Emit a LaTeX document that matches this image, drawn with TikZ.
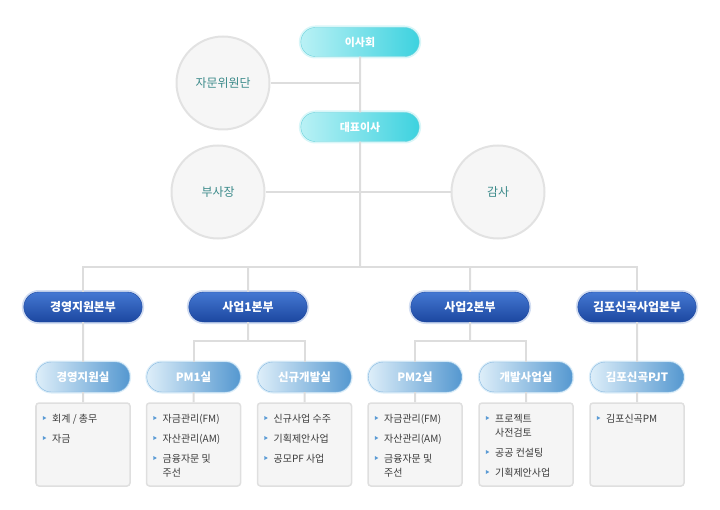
\documentclass[tikz,border=0pt]{standalone}
\usepackage{fontspec}
\setmainfont{Noto Sans CJK KR}
\usepackage{xcolor}
\usepackage{tikz}
\usetikzlibrary{shapes,positioning,calc}
\definecolor{linegray}{HTML}{DDDDDD}
\definecolor{cyanL}{HTML}{B9F1F5}
\definecolor{cyanR}{HTML}{3DD2DF}
\definecolor{cyanB}{HTML}{6CD3DD}
\definecolor{cyanG}{HTML}{D9F6F8}
\definecolor{divT}{HTML}{4478D2}
\definecolor{divB}{HTML}{1C47A0}
\definecolor{divG}{HTML}{D3DEF2}
\definecolor{subL}{HTML}{DDEEF9}
\definecolor{subR}{HTML}{5598D0}
\definecolor{subB}{HTML}{86B8E0}
\definecolor{circF}{HTML}{F6F6F6}
\definecolor{circD}{HTML}{E2E2E2}
\definecolor{circT}{HTML}{3B8A8A}
\definecolor{boxF}{HTML}{F5F5F5}
\definecolor{boxD}{HTML}{DFDFDF}
\definecolor{itemc}{HTML}{3A3A3A}
\definecolor{bulc}{HTML}{5B9BD5}
\newcommand\pillsize{\fontsize{11}{13}\selectfont}
\newcommand\divsize{\fontsize{12}{14}\selectfont}
\newcommand\subsize{\fontsize{11.5}{13}\selectfont}
\newcommand\circsize{\fontsize{12}{14}\selectfont}
\newcommand\itemsize{\fontsize{10}{12}\selectfont}

\begin{document}
\begin{tikzpicture}[x=1bp,y=-1bp,
    line/.style={draw=linegray,line width=2bp},
    toppill/.style={rounded rectangle,minimum width=125bp,minimum height=29bp,
      left color=cyanL,right color=cyanR,draw=cyanB,text=white,font=\bfseries\pillsize,
      preaction={draw=cyanG,line width=4bp}},
    divpill/.style={rounded rectangle,minimum width=125bp,minimum height=30bp,
      top color=divT,bottom color=divB,draw=divB,text=white,font=\bfseries\divsize,
      preaction={draw=divG,line width=4bp}},
    subpill/.style={rounded rectangle,minimum width=100bp,minimum height=30bp,
      left color=subL,right color=subR,draw=subB,text=white,font=\bfseries\subsize,
      preaction={draw=subL,line width=3bp}},
    circ/.style={circle,minimum size=93bp,fill=circF,draw=circD,line width=2bp,
      text=circT,font=\circsize},
    taskbox/.style={rectangle,rounded corners=3bp,minimum width=94bp,minimum height=83bp,
      fill=boxF,draw=boxD,line width=1.5bp},
    bulmark/.style={isosceles triangle,isosceles triangle stretches,fill=bulc,
      inner sep=0pt,minimum width=4bp,minimum height=3.5bp},
    itemcont/.style={anchor=base west,inner sep=0pt,font=\itemsize,text=itemc},
    item/.style={itemcont,append after command={node[bulmark]
      at ([xshift=-8bp,yshift=4bp]\tikzlastnode.base west) {}}}]
    \useasboundingbox (0,0) rectangle (720,510);
    % Board and CEO
    \node[toppill] (board) at (360,42) {이사회};
    \node[circ] (advisor) at (223,83) {자문위원단};
    \node[toppill] (ceo) at (360,127) {대표이사};
    \node[circ] (vp) at (218,192) {부사장};
    \node[circ] (audit) at (498,192) {감사};
    \coordinate (bus) at (360,267);
    % Divisions
    \node[divpill] (div1) at (83,307) {경영지원본부};
    \node[divpill] (div2) at (248,307) {사업1본부};
    \node[divpill] (div3) at (470,307) {사업2본부};
    \node[divpill] (div4) at (637,307) {김포신곡사업본부};
    \coordinate (br1) at (248,341);
    \coordinate (br2) at (470,341);
    % Offices
    \node[subpill] (sub1) at (83,377) {경영지원실};
    \node[subpill] (sub2) at (193.5,377) {PM1실};
    \node[subpill] (sub3) at (304.5,377) {신규개발실};
    \node[subpill] (sub4) at (415,377) {PM2실};
    \node[subpill] (sub5) at (526,377) {개발사업실};
    \node[subpill] (sub6) at (637,377) {김포신곡PJT};
    % Task boxes
    \node[taskbox] (box1) at (83,444.5) {};
    \node[taskbox] (box2) at (193.5,444.5) {};
    \node[taskbox] (box3) at (304.5,444.5) {};
    \node[taskbox] (box4) at (415,444.5) {};
    \node[taskbox] (box5) at (526,444.5) {};
    \node[taskbox] (box6) at (637,444.5) {};
    % Tasks
    \node[item] (t1a) at (52,422) {회계 / 총무};
    \node[item] (t1b) at (52,442) {자금};
    \node[item] (t2a) at (162.5,422) {자금관리(FM)};
    \node[item] (t2b) at (162.5,442) {자산관리(AM)};
    \node[item] (t2c) at (162.5,462) {금융자문 및};
    \node[itemcont] (t2d) at (162.5,476) {주선};
    \node[item] (t3a) at (273.5,422) {신규사업 수주};
    \node[item] (t3b) at (273.5,442) {기획제안사업};
    \node[item] (t3c) at (273.5,462) {공모PF 사업};
    \node[item] (t4a) at (384,422) {자금관리(FM)};
    \node[item] (t4b) at (384,442) {자산관리(AM)};
    \node[item] (t4c) at (384,462) {금융자문 및};
    \node[itemcont] (t4d) at (384,476) {주선};
    \node[item] (t5a) at (495,422) {프로젝트};
    \node[itemcont] (t5b) at (495,436) {사전검토};
    \node[item] (t5c) at (495,456) {공공 컨설팅};
    \node[item] (t5d) at (495,476) {기획제안사업};
    \node[item] (t6a) at (606,422) {김포신곡PM};
    % Lines
    \draw[line] (board) -- (ceo);
    \draw[line] (advisor) -- (advisor -| board);
    \draw[line] (ceo) -- (bus);
    \draw[line] (vp) -- (audit);
    \draw[line] (div1) |- (bus) -| (div4);
    \draw[line] (div2) -- (div2 |- bus);
    \draw[line] (div3) -- (div3 |- bus);
    \draw[line] (div1) -- (sub1);
    \draw[line] (div2) -- (br1);
    \draw[line] (sub2) |- (br1) -| (sub3);
    \draw[line] (div3) -- (br2);
    \draw[line] (sub4) |- (br2) -| (sub5);
    \draw[line] (div4) -- (sub6);
    \draw[line] (sub1) -- (box1);
    \draw[line] (sub2) -- (box2);
    \draw[line] (sub3) -- (box3);
    \draw[line] (sub4) -- (box4);
    \draw[line] (sub5) -- (box5);
    \draw[line] (sub6) -- (box6);
\end{tikzpicture}
\end{document}
